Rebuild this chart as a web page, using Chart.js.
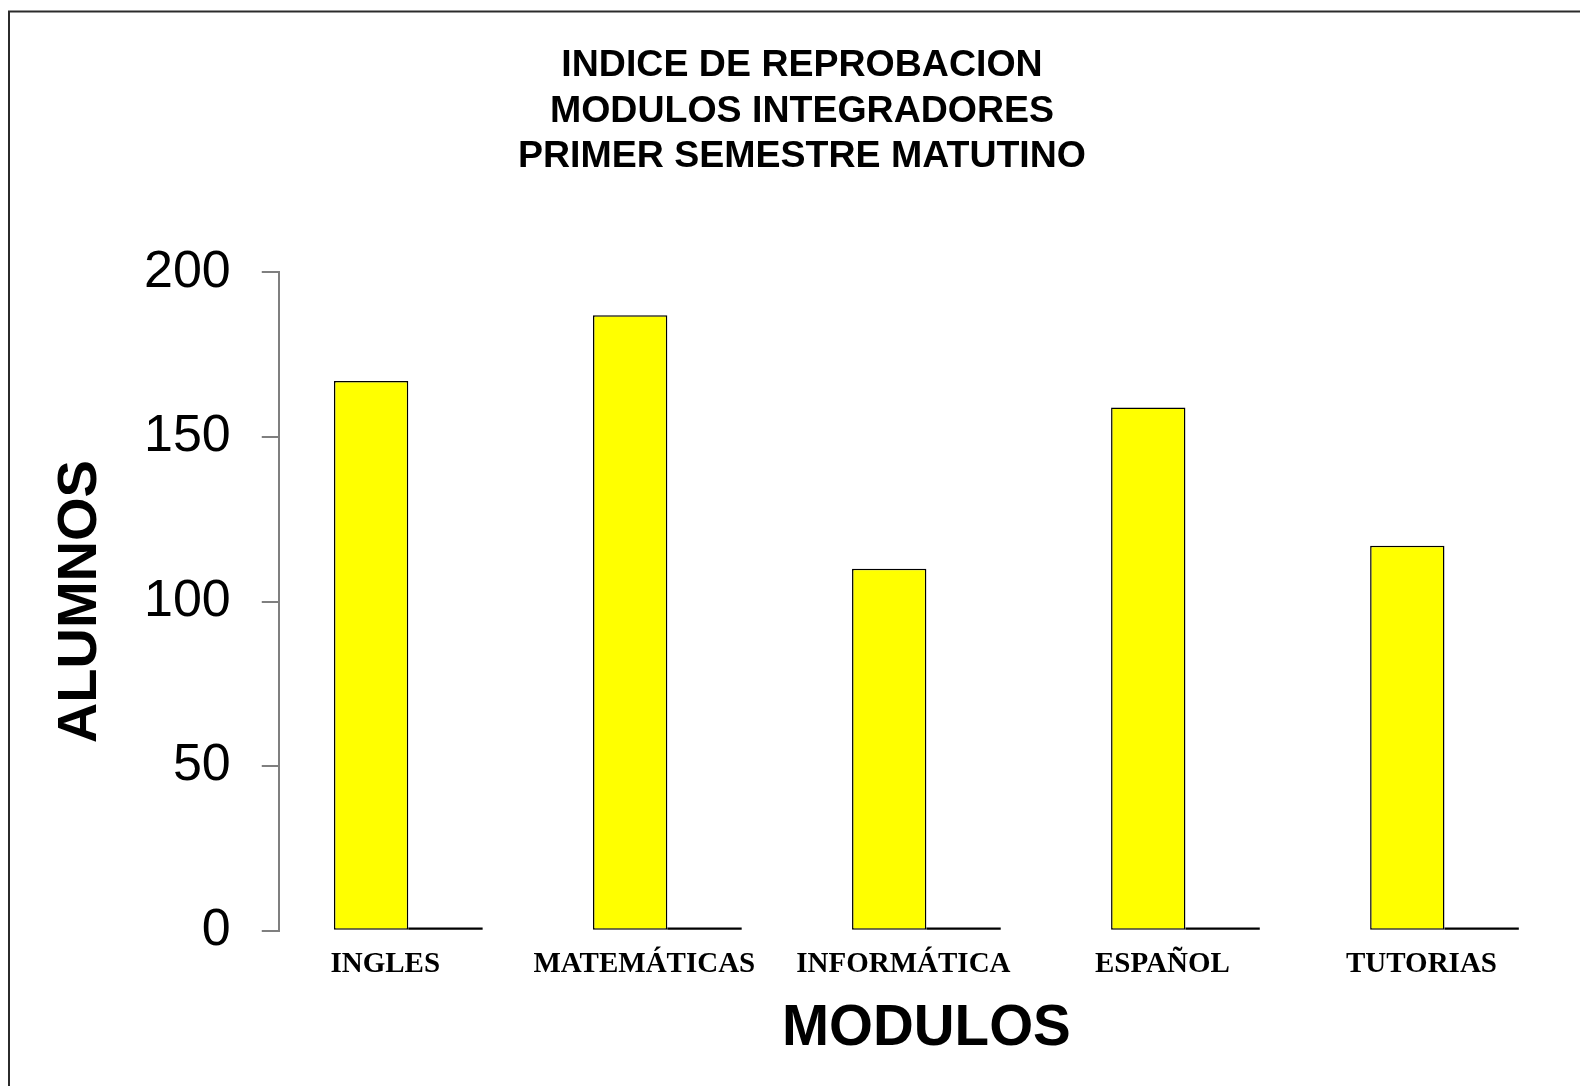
<!DOCTYPE html>
<html>
<head>
<meta charset="utf-8">
<script src="https://cdn.jsdelivr.net/npm/chart.js@4/dist/chart.umd.min.js"></script>
<style>
  html, body { margin: 0; padding: 0; background: #ffffff; }
  #wrap { width: 1580px; height: 1086px; position: relative; }
</style>
</head>
<body>
<div id="wrap"><canvas id="c" width="1580" height="1086"></canvas></div>
<script>
const categories = ["INGLES", "MATEMÁTICAS", "INFORMÁTICA", "ESPAÑOL", "TUTORIAS"];
const reprobados = [167, 187, 110, 159, 117];
const serie2 = [1, 1, 1, 1, 1];
const titleLines = ["INDICE DE REPROBACION", "MODULOS INTEGRADORES", "PRIMER SEMESTRE MATUTINO"];
const yTitle = "ALUMNOS";
const xTitle = "MODULOS";

const frame = {
  id: 'frame',
  afterDraw(chart) {
    const ctx = chart.ctx;
    ctx.save();
    ctx.strokeStyle = '#2b2b2b';
    ctx.lineWidth = 2;
    ctx.beginPath();
    ctx.moveTo(9, 1086);
    ctx.lineTo(9, 11.5);
    ctx.lineTo(1580, 11.5);
    ctx.stroke();
    ctx.restore();
  }
};

new Chart(document.getElementById('c'), {
  type: 'bar',
  data: {
    labels: categories,
    datasets: [
      {
        label: 'Reprobados',
        data: reprobados,
        backgroundColor: '#ffff00',
        borderColor: '#000000',
        borderWidth: 1.5,
        borderSkipped: false
      },
      {
        label: 'Serie 2',
        data: serie2,
        backgroundColor: '#000000',
        borderWidth: 0
      }
    ]
  },
  options: {
    responsive: false,
    animation: false,
    events: [],
    layout: { padding: { top: 11, left: 30, right: 6, bottom: 0 } },
    datasets: { bar: { categoryPercentage: 0.574, barPercentage: 1 } },
    plugins: {
      legend: { display: false },
      tooltip: { enabled: false },
      title: {
        display: true,
        text: titleLines,
        color: '#000000',
        font: { family: '"Liberation Sans", Arial, sans-serif', size: 37.5, weight: 'bold', lineHeight: 1.213 },
        padding: { top: 32, bottom: 93 }
      }
    },
    scales: {
      x: {
        offset: true,
        border: { display: false },
        grid: { display: false, drawTicks: false, tickLength: 0 },
        ticks: {
          color: '#000000',
          autoSkip: false,
          maxRotation: 0,
          padding: 16,
          labelOffset: -23,
          font: { family: '"Liberation Serif", "Times New Roman", serif', size: 29, weight: 'bold', lineHeight: 1.2 }
        },
        title: {
          display: true,
          text: xTitle,
          color: '#000000',
          font: { family: '"Liberation Sans", Arial, sans-serif', size: 56.5, weight: 'bold', lineHeight: 1 },
          padding: { top: 4, bottom: 28 }
        }
      },
      y: {
        min: 0,
        max: 200,
        border: { display: true, color: '#7f7f7f', width: 2 },
        grid: { drawOnChartArea: false, drawTicks: true, tickLength: 17, color: '#7f7f7f', lineWidth: 2 },
        ticks: {
          stepSize: 50,
          color: '#000000',
          padding: 31,
          font: { family: '"Liberation Sans", Arial, sans-serif', size: 52, weight: 'normal', lineHeight: 1.2 }
        },
        title: {
          display: true,
          text: yTitle,
          color: '#000000',
          font: { family: '"Liberation Sans", Arial, sans-serif', size: 56, weight: 'bold', lineHeight: 1 },
          padding: { top: 23, bottom: 4 }
        }
      }
    }
  },
  plugins: [frame]
});
</script>
</body>
</html>
